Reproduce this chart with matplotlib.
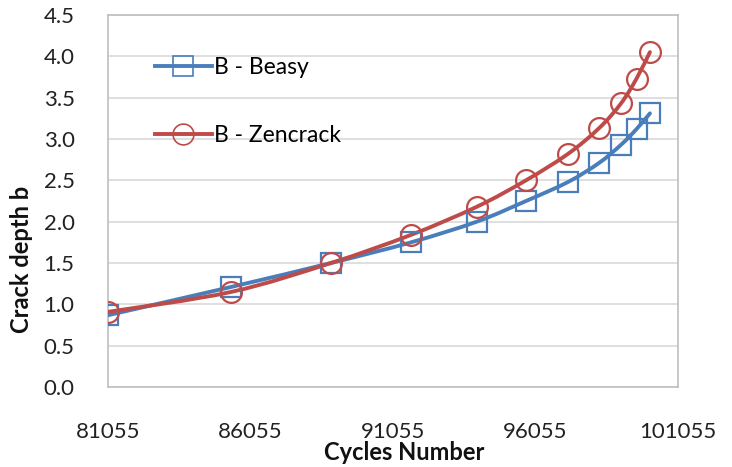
import matplotlib
matplotlib.use("Agg")
import matplotlib.pyplot as plt
from matplotlib.path import Path
from matplotlib.patches import PathPatch
from matplotlib.lines import Line2D

plt.rcParams['font.family'] = ['Lato', 'DejaVu Sans']

cycles = [81055, 85360, 88870, 91680, 93990, 95720, 97195, 98283, 99055, 99600, 100070]
beasy = [0.87, 1.21, 1.50, 1.75, 2.00, 2.25, 2.48, 2.71, 2.93, 3.12, 3.31]
zencrack = [0.91, 1.15, 1.50, 1.84, 2.18, 2.50, 2.82, 3.13, 3.43, 3.73, 4.05]
labels = ["B - Beasy", "B - Zencrack"]
xticks = [81055, 86055, 91055, 96055, 101055]
yticks = [0.0, 0.5, 1.0, 1.5, 2.0, 2.5, 3.0, 3.5, 4.0, 4.5]

BLUE = "#4A7EBB"
RED = "#BE4B48"

fig = plt.figure(figsize=(7.32, 4.67), dpi=100)
ax = fig.add_axes([0.1475, 0.171, 0.7787, 0.797])


def smooth_path(xs, ys):
    # Excel-style smoothed line drawn as cubic Bezier segments through the data points
    n = len(xs)
    verts = [(xs[0], ys[0])]
    codes = [Path.MOVETO]
    for i in range(n - 1):
        x0, y0 = (xs[i - 1], ys[i - 1]) if i > 0 else (xs[i], ys[i])
        x1, y1 = xs[i], ys[i]
        x2, y2 = xs[i + 1], ys[i + 1]
        x3, y3 = (xs[i + 2], ys[i + 2]) if i + 2 < n else (xs[i + 1], ys[i + 1])
        c1 = (x1 + (x2 - x0) / 6.0, y1 + (y2 - y0) / 6.0)
        c2 = (x2 - (x3 - x1) / 6.0, y2 - (y3 - y1) / 6.0)
        verts += [c1, c2, (x2, y2)]
        codes += [Path.CURVE4] * 3
    return Path(verts, codes)


for ys, col, mk, lab in [(beasy, BLUE, 's', labels[0]), (zencrack, RED, 'o', labels[1])]:
    ax.add_patch(PathPatch(smooth_path(cycles, ys), facecolor='none', edgecolor=col,
                           lw=2.8, zorder=3, capstyle='round'))
    ax.plot(cycles, ys, linestyle='none', marker=mk, markersize=14 if mk == 's' else 15,
            markerfacecolor='none', markeredgecolor=col, markeredgewidth=1.6, zorder=4)

ax.set_xlim(81055, 101055)
ax.set_ylim(0, 4.5)
ax.set_xticks(xticks)
ax.set_xticklabels([str(v) for v in xticks])
ax.set_yticks(yticks)
ax.set_yticklabels([f"{v:.1f}" for v in yticks])
ax.tick_params(axis='both', length=0, labelsize=16, colors='#222222')
ax.tick_params(axis='x', pad=25)
ax.tick_params(axis='y', pad=24)
ax.grid(axis='y', color='#D9D9D9', lw=1.2)
ax.set_axisbelow(True)
for s in ax.spines.values():
    s.set_color('#BFBFBF')
    s.set_linewidth(1.2)

ax.set_xlabel("Cycles Number", fontsize=17, fontweight='bold', va='center', color='#111111')
ax.xaxis.set_label_coords(0.519, -0.175)
ax.set_ylabel("Crack depth b", fontsize=17, fontweight='bold', va='center', color='#111111')
ax.yaxis.set_label_coords(-0.151, 0.344)

handles = [Line2D([], [], color=BLUE, lw=2.8, marker='s', markersize=14, markerfacecolor='none',
                  markeredgecolor=BLUE, markeredgewidth=1.2),
           Line2D([], [], color=RED, lw=2.8, marker='o', markersize=15, markerfacecolor='none',
                  markeredgecolor=RED, markeredgewidth=1.2)]
ax.legend(handles, labels, loc='upper left', bbox_to_anchor=(0.062, 0.918), frameon=False,
          fontsize=16.5, labelspacing=2.05, handlelength=2.5, handletextpad=0.1, borderpad=0)

fig.savefig("out.png", dpi=100)
